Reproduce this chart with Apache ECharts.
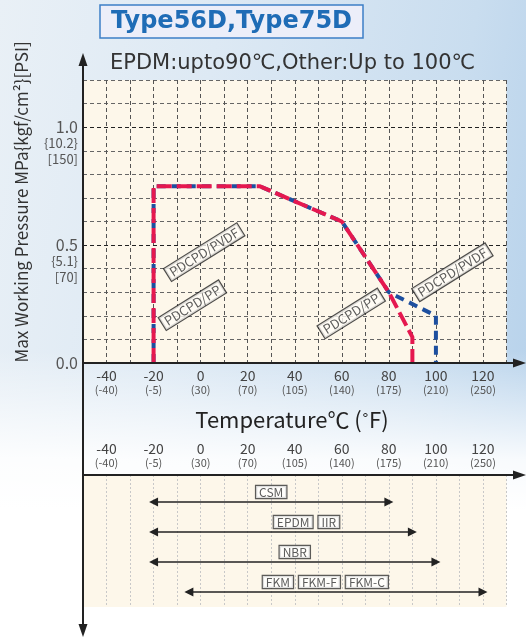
<!DOCTYPE html>
<html>
<head>
<meta charset="utf-8">
<script src="https://cdn.jsdelivr.net/npm/echarts@6/dist/echarts.min.js"></script>
<style>
html,body{margin:0;padding:0;}
#c{width:526px;height:638px;
background:
 linear-gradient(to bottom, rgba(255,255,255,0) 0%, rgba(255,255,255,0) 55%, rgba(255,255,255,0.9) 72%, #fff 80%),
 linear-gradient(100deg, #e9f0f6 0%, #dde9f4 35%, #c9ddef 75%, #b2cfea 100%);}
</style>
</head>
<body>
<div id="c"></div>
<script>
// ---- data ----
const tempTicks = [-40, -20, 0, 20, 40, 60, 80, 100, 120];
const fahrenheit = ['(-40)', '(-5)', '(30)', '(70)', '(105)', '(140)', '(175)', '(210)', '(250)'];
const pressTicks = [0.0, 0.5, 1.0];
const pressKgf = ['', '{5.1}', '{10.2}'];
const pressPsi = ['', '[70]', '[150]'];

const pvdfCurve = [[-20, 0], [-20, 0.75], [25, 0.75], [60, 0.6], [80, 0.3], [100, 0.2], [100, 0]];
const ppCurve = [[-20, 0], [-20, 0.75], [25, 0.75], [60, 0.6], [80, 0.3], [90, 0.11], [90, 0]];

const curveLabelText = ['PDCPD/PVDF', 'PDCPD/PP', 'PDCPD/PP', 'PDCPD/PVDF'];
const curveLabelT = [1.5, -3.5, 64, 107];
const curveLabelP = [0.47, 0.245, 0.21, 0.385];

const rangeNames = [['CSM'], ['EPDM', 'IIR'], ['NBR'], ['FKM', 'FKM-F', 'FKM-C']];
const rangeMin = [-20, -20, -20, -5];
const rangeMax = [80, 90, 100, 120];
const rangeRow = [1, 2, 3, 4];
const rangeLabelT = [30, 45, 40, 53];

// ---- layout ----
const L = 83, R = 19.5, TOP1 = 80, H1 = 283, TOP2 = 475, H2 = 132;
const AX = '#222';

const chart = echarts.init(document.getElementById('c'), null, {renderer: 'canvas'});

function tempLabel(v) {
  const i = tempTicks.indexOf(Math.round(v));
  if (i < 0 || Math.abs(v - tempTicks[i]) > 1e-6) return '';
  return '{a|' + tempTicks[i] + '}\n{b|' + fahrenheit[i] + '}';
}
function pIndex(v) { return pressTicks.findIndex(p => Math.abs(p - v) < 1e-6); }

const tempRich = {
  a: {fontSize: 14, color: '#444', fontFamily: 'Noto Sans CJK JP', lineHeight: 14},
  b: {fontSize: 11, color: '#555', fontFamily: 'Noto Sans CJK JP', lineHeight: 13}
};

const option = {
  animation: false,
  backgroundColor: 'transparent',
  title: [
    {text: 'Type56D,Type75D', left: 100, top: 5,
     backgroundColor: '#eceef9', borderColor: '#3d7fc6', borderWidth: 1.5, padding: [3, 11, 2, 11],
     textStyle: {fontSize: 24, fontWeight: 'bold', color: '#1f6cb6', fontFamily: 'DejaVu Sans', lineHeight: 28}},
    {text: 'EPDM:upto90℃,Other:Up to 100℃', left: 105, top: 48,
     textStyle: {fontSize: 21, fontWeight: 'normal', color: '#333', fontFamily: 'DejaVu Sans'}}
  ],
  grid: [
    {left: L, right: R, top: TOP1, height: H1, show: true, backgroundColor: '#fdf7ea', borderWidth: 0, outerBoundsMode: 'none', containLabel: false},
    {left: L, right: R, top: TOP2, height: H2, show: true, backgroundColor: '#fdf7ea', borderWidth: 0, outerBoundsMode: 'none', containLabel: false}
  ],
  xAxis: [
    {type: 'value', gridIndex: 0, min: -50, max: 130, interval: 10,
     axisLine: {show: false}, axisTick: {show: false},
     axisLabel: {formatter: tempLabel, rich: tempRich, margin: 6, showMinLabel: true, showMaxLabel: true},
     splitLine: {show: true, lineStyle: {color: '#555', type: [4, 3], width: 1}}},
    {type: 'value', gridIndex: 1, min: -50, max: 130, interval: 10, position: 'top',
     axisLine: {show: false}, axisTick: {show: false},
     axisLabel: {formatter: tempLabel, rich: tempRich, margin: 6},
     splitLine: {show: true, lineStyle: {color: '#c8c8c8', type: [2, 2], width: 1}}}
  ],
  yAxis: [
    {type: 'value', gridIndex: 0, min: 0, max: 1.2, interval: 0.1, position: 'left',
     axisLine: {show: false}, axisTick: {show: false},
     axisLabel: {margin: 5, color: '#555', fontSize: 16, fontFamily: 'Noto Sans CJK JP',
       formatter: v => pIndex(v) < 0 ? '' : v.toFixed(1)},
     splitLine: {show: true, lineStyle: {color: ['#444', '#666', '#666', '#666', '#666', '#222', '#666', '#666', '#666', '#666', '#222', '#666', '#666'], type: [4, 3], width: 1}}},
    {type: 'value', gridIndex: 0, min: 0, max: 1.2, interval: 0.1, position: 'left', offset: 0,
     axisLine: {show: false, onZero: false}, axisTick: {show: false}, splitLine: {show: false},
     axisLabel: {margin: 5, color: '#555', fontSize: 13, lineHeight: 16, fontFamily: 'Noto Sans CJK JP',
       verticalAlign: 'top', padding: [8, 0, 0, 0],
       formatter: v => { const i = pIndex(v); return (i <= 0) ? '' : pressKgf[i] + '\n' + pressPsi[i]; }}},
    {type: 'value', gridIndex: 1, min: 0.1, max: 4.5, inverse: true, show: false,
     axisLine: {show: false}, splitLine: {show: false}}
  ],
  series: [
    {type: 'line', xAxisIndex: 0, yAxisIndex: 0, data: pvdfCurve, showSymbol: false, symbol: 'none', z: 3,
     lineStyle: {color: '#1d4f9f', width: 4, type: [9, 6]}},
    {type: 'line', xAxisIndex: 0, yAxisIndex: 0, data: ppCurve, showSymbol: false, symbol: 'none', z: 4,
     lineStyle: {color: '#e5184f', width: 4, type: [15, 5]}},
    {type: 'scatter', xAxisIndex: 0, yAxisIndex: 0, symbolSize: 0, z: 6,
     data: curveLabelText.map((t, i) => ({value: [curveLabelT[i], curveLabelP[i]], name: t})),
     label: {show: true, position: 'inside', rotate: 32, formatter: p => p.name,
       fontSize: 13, color: '#333', fontFamily: 'Noto Sans CJK JP',
       backgroundColor: '#fffdf8', borderColor: '#222', borderWidth: 1.2, padding: [1, 3, 0, 3]}},
    {type: 'lines', coordinateSystem: 'cartesian2d', xAxisIndex: 1, yAxisIndex: 2,
     symbol: ['triangle', 'triangle'], symbolSize: 9, z: 3,
     lineStyle: {color: '#222', width: 1.5, opacity: 1},
     data: rangeRow.map((r, i) => ({coords: [[rangeMin[i], r], [rangeMax[i], r]]}))},
    {type: 'scatter', xAxisIndex: 1, yAxisIndex: 2, symbolSize: 0, z: 6,
     data: rangeRow.map((r, i) => ({value: [rangeLabelT[i], r], names: rangeNames[i]})),
     label: {show: true, position: 'top', distance: 3,
       formatter: p => p.data.names.map(n => '{b|' + n + '}').join('{s| }'),
       rich: {
         b: {fontSize: 12, color: '#333', fontFamily: 'Noto Sans CJK JP', backgroundColor: '#fff',
             borderColor: '#333', borderWidth: 1.2, padding: [0, 3, 0, 3], lineHeight: 14},
         s: {fontSize: 11, width: 6}
       }}}
  ],
  graphic: [
    {type: 'line', shape: {x1: L, y1: 64, x2: L, y2: 626}, style: {stroke: AX, lineWidth: 2}, z: 10},
    {type: 'polygon', shape: {points: [[L, 53], [L - 4.5, 66], [L + 4.5, 66]]}, style: {fill: AX}, z: 10},
    {type: 'polygon', shape: {points: [[L, 637], [L - 4.5, 624], [L + 4.5, 624]]}, style: {fill: AX}, z: 10},
    {type: 'line', shape: {x1: L, y1: TOP1 + H1, x2: 515, y2: TOP1 + H1}, style: {stroke: AX, lineWidth: 2}, z: 10},
    {type: 'polygon', shape: {points: [[526, TOP1 + H1], [513, TOP1 + H1 - 4.5], [513, TOP1 + H1 + 4.5]]}, style: {fill: AX}, z: 10},
    {type: 'line', shape: {x1: L, y1: TOP2, x2: 515, y2: TOP2}, style: {stroke: AX, lineWidth: 2}, z: 10},
    {type: 'polygon', shape: {points: [[526, TOP2], [513, TOP2 - 4.5], [513, TOP2 + 4.5]]}, style: {fill: AX}, z: 10},
    {type: 'text', x: 22, y: 202, rotation: Math.PI / 2, z: 10,
     style: {text: 'Max Working Pressure MPa{kgf/cm²}[PSI]', fontSize: 17, fill: '#333',
       fontFamily: 'Noto Sans CJK JP', align: 'center', verticalAlign: 'middle'}},
    {type: 'text', x: 292, y: 420, z: 10,
     style: {text: 'Temperature℃ (˚F)', fontSize: 22, fill: '#222',
       fontFamily: 'Noto Sans CJK JP', align: 'center', verticalAlign: 'middle'}}
  ]
};
chart.setOption(option);
</script>
</body>
</html>
